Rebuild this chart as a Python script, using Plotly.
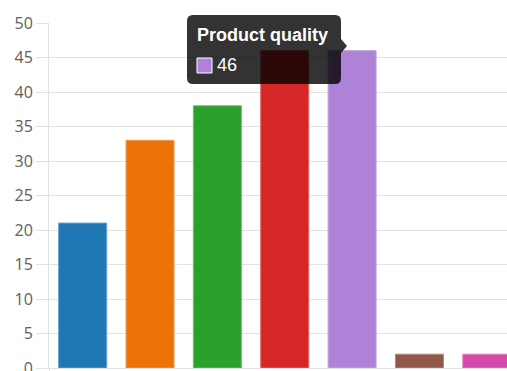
import plotly.graph_objects as go

# Survey factors and their scores
categories = ["Price", "Customer service", "Delivery speed", "Brand reputation",
              "Product quality", "Packaging", "Other"]
values = [21, 33, 38, 46, 46, 2, 2]
bar_colors = ["#1f77b4", "#ec7307", "#2ca02c", "#d62728", "#ae82d6", "#91584a", "#d44aa8"]
y_ticks = [0, 5, 10, 15, 20, 25, 30, 35, 40, 45, 50]

W, H = 507, 371
ML, MR, MT, MB = 49, 0, 23, 3
PW, PH = W - ML - MR, H - MT - MB


def lighten(hex_color, amt=0.3):
    r, g, b = (int(hex_color[i:i + 2], 16) for i in (1, 3, 5))
    r, g, b = (int(c + (255 - c) * amt) for c in (r, g, b))
    return f"rgb({r},{g},{b})"


def px(x):
    return (x - ML) / PW


def py(y):
    return (H - MB - y) / PH


fig = go.Figure(go.Bar(
    x=categories,
    y=values,
    marker=dict(color=bar_colors,
                line=dict(color=[lighten(c) for c in bar_colors], width=1)),
    hoverinfo="none",
))

grid = "#e2e2e2"
fig.update_layout(
    width=W, height=H,
    margin=dict(l=ML, r=MR, t=MT, b=MB, pad=0),
    paper_bgcolor="white", plot_bgcolor="white",
    bargap=0.287,
    showlegend=False,
    font=dict(family="Open Sans", size=16, color="#606060"),
)
fig.update_xaxes(
    range=[-0.5, 6.3], showgrid=False, showticklabels=False,
    tickmode="array", tickvals=[-0.5], ticks="outside", ticklen=8,
    tickcolor=grid, tickwidth=1, zeroline=False, automargin=False,
    showline=True, linecolor=grid, linewidth=1,
)
fig.update_yaxes(
    range=[0, 50], tickvals=y_ticks, showgrid=True, gridcolor=grid, gridwidth=1,
    ticks="outside", ticklen=12, tickcolor=grid, tickwidth=1,
    showline=True, linecolor=grid, linewidth=1, zeroline=False, automargin=False,
    ticklabeloverflow="allow",
    tickfont=dict(family="Open Sans", size=16, color="#606060"),
)

# Tooltip for the highlighted bar
idx = 4
x0, x1, y0, y1, r = 187, 341, 15, 84, 6
cy, cw = 46, 7
pts = [
    ("M", x0 + r, y0), ("L", x1 - r, y0), ("Q", x1, y0, x1, y0 + r),
    ("L", x1, cy - cw), ("L", x1 + cw - 1, cy), ("L", x1, cy + cw),
    ("L", x1, y1 - r), ("Q", x1, y1, x1 - r, y1), ("L", x0 + r, y1),
    ("Q", x0, y1, x0, y1 - r), ("L", x0, y0 + r), ("Q", x0, y0, x0 + r, y0),
]
path = ""
for p in pts:
    cmd, coords = p[0], p[1:]
    xy = []
    for i in range(0, len(coords), 2):
        xy.append(f"{px(coords[i]):.5f},{py(coords[i + 1]):.5f}")
    path += cmd + " " + " ".join(xy) + " "
path += "Z"

fig.add_shape(type="path", path=path, xref="paper", yref="paper",
              fillcolor="rgba(0,0,0,0.8)", line=dict(width=0), layer="above")
fig.add_shape(type="rect", xref="paper", yref="paper",
              x0=px(197), x1=px(212), y0=py(58), y1=py(73),
              fillcolor=bar_colors[idx], line=dict(color="white", width=1), layer="above")
fig.add_annotation(text=f"<b>{categories[idx]}</b>", xref="paper", yref="paper",
                   x=px(196), y=py(34.5), xanchor="left", yanchor="middle",
                   showarrow=False, borderpad=0,
                   font=dict(family="Liberation Sans", size=18, color="white"))
fig.add_annotation(text=str(values[idx]), xref="paper", yref="paper",
                   x=px(216), y=py(65), xanchor="left", yanchor="middle",
                   showarrow=False, borderpad=0,
                   font=dict(family="Liberation Sans", size=18, color="white"))

fig.write_html("out.html")
